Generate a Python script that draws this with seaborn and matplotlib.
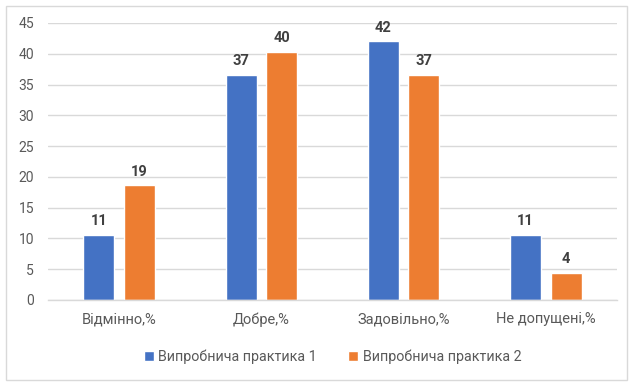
import math
import matplotlib
matplotlib.use("Agg")
import matplotlib.pyplot as plt
from matplotlib.patches import Rectangle
import seaborn as sns
import pandas as pd

categories = ["Відмінно,%", "Добре,%", "Задовільно,%", "Не допущені,%"]
series_names = ["Випробнича практика 1", "Випробнича практика 2"]
practice1 = [10.6, 36.5, 42.0, 10.6]
practice2 = [18.6, 40.3, 36.5, 4.4]
colors = ["#4472C4", "#ED7D31"]
yticks = [0, 5, 10, 15, 20, 25, 30, 35, 40, 45]

rows = []
for c, v in zip(categories, practice1):
    rows.append({"cat": c, "series": series_names[0], "val": v})
for c, v in zip(categories, practice2):
    rows.append({"cat": c, "series": series_names[1], "val": v})
df = pd.DataFrame(rows)

sns.set_style("white")
plt.rcParams["font.family"] = ["Roboto", "DejaVu Sans"]

fig = plt.figure(figsize=(6.4, 3.87), dpi=100)
ax = fig.add_axes([0.075, 0.225, 0.889, 0.7156])

sns.barplot(data=df, x="cat", y="val", hue="series", order=categories,
            hue_order=series_names, palette=colors, width=0.57, gap=0.235,
            saturation=1, ax=ax, legend=True)

for cont in ax.containers:
    labels = [str(int(math.floor(b.get_height() + 0.5))) for b in cont]
    ax.bar_label(cont, labels=labels, padding=5, fontsize=10.5,
                 fontweight="bold", color="#404040")

ax.set_ylim(0, 45)
ax.set_xlim(-0.5, 3.5)
ax.set_yticks(yticks)
ax.yaxis.grid(True, color="#D9D9D9", linewidth=1)
ax.set_axisbelow(True)
for s in ["top", "right", "left"]:
    ax.spines[s].set_visible(False)
ax.spines["bottom"].set_color("#D9D9D9")
ax.spines["bottom"].set_linewidth(1)
ax.tick_params(axis="both", length=0, colors="#595959", labelsize=10)
ax.tick_params(axis="x", labelsize=10.5)
ax.tick_params(axis="y", pad=10)
ax.tick_params(axis="x", pad=9)
ax.set_xlabel("")
ax.set_ylabel("")

leg = ax.legend(loc="center", bbox_to_anchor=(0.5, -0.205), ncol=2,
                frameon=False, fontsize=10.3, handlelength=0.7, handleheight=0.7,
                columnspacing=2.2, handletextpad=0.3, labelcolor="#595959")

fig.patches.append(Rectangle((0.009, 0.018), 0.97, 0.966, transform=fig.transFigure,
                             fill=False, edgecolor="#D9D9D9", linewidth=1))

fig.savefig("out.png", dpi=100)
